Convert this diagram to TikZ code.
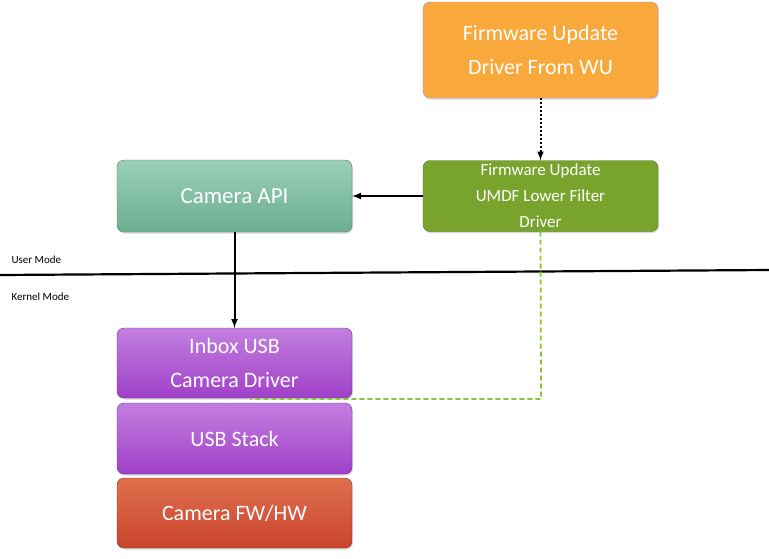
\documentclass[tikz,border=0pt]{standalone}
\usepackage{fontspec}
\setmainfont{Carlito}
\usetikzlibrary{positioning,shadows}
\definecolor{wuorange}{HTML}{F9A93C}
\definecolor{filtgreen}{HTML}{78A42E}
\definecolor{apitop}{HTML}{9ACFB8}
\definecolor{apibot}{HTML}{6CAE90}
\definecolor{purtop}{HTML}{C27FDF}
\definecolor{purbot}{HTML}{A040C8}
\definecolor{redtop}{HTML}{E0704E}
\definecolor{redbot}{HTML}{C8442E}
\definecolor{dashgreen}{HTML}{8CC63F}
\tikzset{
  box/.style={draw=#1!70!black, rounded corners=7pt, minimum width=235pt, text=white,
    align=center, inner sep=0pt, drop shadow={opacity=0.3,shadow xshift=1pt,shadow yshift=-1.5pt}},
  lbl/.style={font=\fontsize{11}{13}\selectfont, anchor=west}
}
\begin{document}
\begin{tikzpicture}[x=1pt,y=-1pt]
        \useasboundingbox (0,0) rectangle (769,558);
        \node (wu) [box=wuorange, fill=wuorange, draw=purtop, minimum height=96pt,
          font=\fontsize{22}{34}\selectfont] at (540.5,50) {Firmware Update\\Driver From WU};
        \node (filt) [box=filtgreen, fill=filtgreen, minimum height=71pt,
          font=\fontsize{17}{26}\selectfont] at (540.5,196) {Firmware Update\\UMDF Lower Filter\\Driver};
        \node (api) [box=apibot, top color=apitop, bottom color=apibot, minimum height=72pt,
          font=\fontsize{23}{28}\selectfont] at (234.5,196) {Camera API};
        \node (inbox) [box=purbot, top color=purtop, bottom color=purbot, minimum height=70pt,
          font=\fontsize{22}{34}\selectfont] at (234.5,363) {Inbox USB\\Camera Driver};
        \node (usb) [box=purbot, top color=purtop, bottom color=purbot, minimum height=71pt,
          font=\fontsize{22}{28}\selectfont] at (234.5,438.5) {USB Stack};
        \node (hw) [box=redbot, top color=redtop, bottom color=redbot, minimum height=70pt,
          font=\fontsize{22}{28}\selectfont] at (234.5,513) {Camera FW/HW};
        % user / kernel boundary
        \coordinate (ml) at (0,275);
        \coordinate (mr) at (769,270);
        \draw[line width=2.2pt] (ml) -- (mr);
        \node (um) [lbl] at (8,260) {User Mode};
        \node (km) [lbl] at (8,297) {Kernel Mode};
        \draw[-latex, line width=2pt, dotted] (wu) -- (filt);
        \draw[-latex, line width=2pt] (filt) -- (api);
        \draw[-latex, line width=2pt] (api) -- (inbox);
        \coordinate (bend) at (541,399);
        \coordinate (dend) at (250,399);
        \draw[dashgreen, line width=1.8pt, dash pattern=on 5pt off 3pt] (filt.south) -- (bend) -- (dend);
      \end{tikzpicture}
\end{document}
